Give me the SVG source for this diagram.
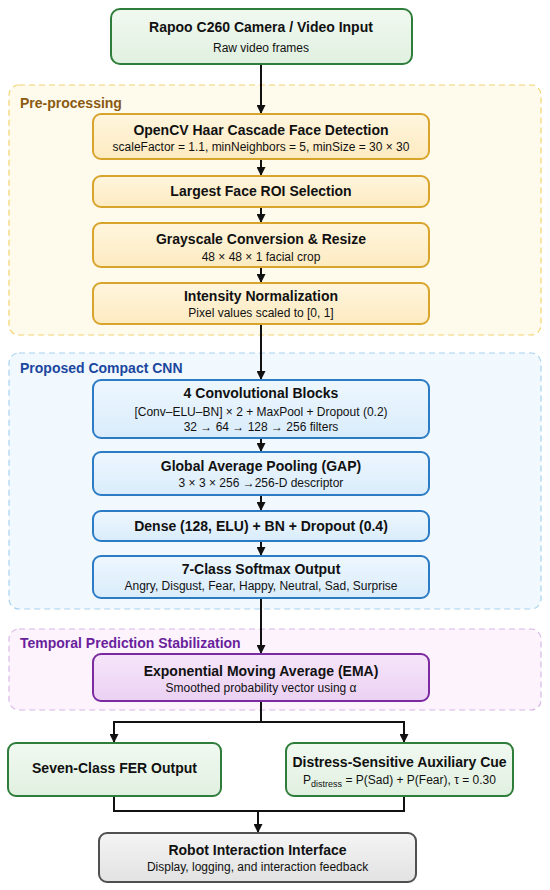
<svg xmlns="http://www.w3.org/2000/svg" width="550" height="890" viewBox="0 0 550 890">
<defs>
<linearGradient id="gGreen" x1="0" y1="0" x2="0" y2="1"><stop offset="0" stop-color="#f1f9f1"/><stop offset="1" stop-color="#e0f0e0"/></linearGradient>
<linearGradient id="gYel" x1="0" y1="0" x2="0" y2="1"><stop offset="0" stop-color="#fff6de"/><stop offset="1" stop-color="#fdeac0"/></linearGradient>
<linearGradient id="gBlue" x1="0" y1="0" x2="0" y2="1"><stop offset="0" stop-color="#eef7fe"/><stop offset="1" stop-color="#d9ecfb"/></linearGradient>
<linearGradient id="gPur" x1="0" y1="0" x2="0" y2="1"><stop offset="0" stop-color="#f6e6fa"/><stop offset="1" stop-color="#ebd0f3"/></linearGradient>
<linearGradient id="gGray" x1="0" y1="0" x2="0" y2="1"><stop offset="0" stop-color="#f4f4f4"/><stop offset="1" stop-color="#e2e2e2"/></linearGradient>
<marker id="arr" viewBox="0 0 10 10" refX="10" refY="5" markerWidth="4.5" markerHeight="4.5" orient="auto" markerUnits="strokeWidth">
<path d="M0,0 L10,5 L0,10 z" fill="#111"/>
</marker>
</defs>
<style>
text{font-family:"Liberation Sans",Arial,sans-serif;text-anchor:middle;fill:#111}
.t{font-size:14px;font-weight:bold}
.s{font-size:12px}
.lab{font-size:14px;font-weight:bold;text-anchor:start}
.cont{stroke-width:1.2;stroke-dasharray:6 4}
.box{stroke-width:2}
.green{fill:url(#gGreen);stroke:#2e7d3a}
.yel{fill:url(#gYel);stroke:#d9a42c}
.blue{fill:url(#gBlue);stroke:#2b7cc4}
.pur{fill:url(#gPur);stroke:#7b2a9f}
.gray{fill:url(#gGray);stroke:#505050}
.ln{fill:none;stroke:#111;stroke-width:2}
.ar{marker-end:url(#arr)}
</style>
<rect width="550" height="890" fill="#ffffff"/>

<g id="cont-pre">
<rect x="9" y="85" width="532" height="250" rx="10" fill="#fffbec" stroke="#f2d470" class="cont"/>
<text x="20" y="108" class="lab" style="fill:#8a5a12">Pre-processing</text>
</g>
<g id="cont-cnn">
<rect x="9" y="353" width="532" height="256" rx="10" fill="#f1f8fe" stroke="#a8d2ee" class="cont"/>
<text x="20" y="373" class="lab" style="fill:#1b479e">Proposed Compact CNN</text>
</g>
<g id="cont-temp">
<rect x="9" y="629" width="532" height="81" rx="10" fill="#fcf3fd" stroke="#d8b8e6" class="cont"/>
<text x="20" y="648" class="lab" style="fill:#6a1f9c">Temporal Prediction Stabilization</text>
</g>

<g id="connectors">
<path class="ln ar" d="M261,64 V114"/>
<path class="ln ar" d="M261,159 V176"/>
<path class="ln ar" d="M261,207 V223"/>
<path class="ln ar" d="M261,267 V283"/>
<path class="ln ar" d="M261,324 V380"/>
<path class="ln ar" d="M261,438 V452"/>
<path class="ln ar" d="M261,495 V511"/>
<path class="ln ar" d="M261,541 V556"/>
<path class="ln ar" d="M261,598 V654"/>
<path class="ln" d="M261,701 V722"/>
<path class="ln ar" d="M114,722 H404 M114,721 V743"/>
<path class="ln ar" d="M404,721 V743"/>
<path class="ln" d="M114,796 V811 H404 V796"/>
<path class="ln ar" d="M258,811 V833"/>
</g>

<g id="input">
<rect x="111" y="9" width="301" height="55" rx="9" class="box green"/>
<text x="261" y="32" class="t">Rapoo C260 Camera / Video Input</text>
<text x="261" y="52" class="s">Raw video frames</text>
</g>
<g id="haar">
<rect x="93" y="114" width="336" height="45" rx="8" class="box yel"/>
<text x="261" y="135" class="t">OpenCV Haar Cascade Face Detection</text>
<text x="261" y="151" class="s">scaleFactor = 1.1, minNeighbors = 5, minSize = 30 × 30</text>
</g>
<g id="roi">
<rect x="93" y="176" width="336" height="31" rx="8" class="box yel"/>
<text x="261" y="196" class="t">Largest Face ROI Selection</text>
</g>
<g id="gray">
<rect x="93" y="223" width="336" height="44" rx="8" class="box yel"/>
<text x="261" y="244" class="t">Grayscale Conversion &amp; Resize</text>
<text x="261" y="261" class="s">48 × 48 × 1 facial crop</text>
</g>
<g id="norm">
<rect x="93" y="283" width="336" height="41" rx="8" class="box yel"/>
<text x="261" y="301" class="t">Intensity Normalization</text>
<text x="261" y="317" class="s">Pixel values scaled to [0, 1]</text>
</g>
<g id="conv">
<rect x="93" y="380" width="336" height="58" rx="8" class="box blue"/>
<text x="261" y="398" class="t">4 Convolutional Blocks</text>
<text x="261" y="416" class="s">[Conv–ELU–BN] × 2 + MaxPool + Dropout (0.2)</text>
<text x="261" y="431" class="s">32 → 64 → 128 → 256 filters</text>
</g>
<g id="gap">
<rect x="93" y="452" width="336" height="43" rx="8" class="box blue"/>
<text x="261" y="471" class="t">Global Average Pooling (GAP)</text>
<text x="261" y="487" class="s">3 × 3 × 256 →256-D descriptor</text>
</g>
<g id="dense">
<rect x="93" y="511" width="336" height="30" rx="8" class="box blue"/>
<text x="261" y="531" class="t">Dense (128, ELU) + BN + Dropout (0.4)</text>
</g>
<g id="softmax">
<rect x="93" y="556" width="336" height="42" rx="8" class="box blue"/>
<text x="261" y="574" class="t">7-Class Softmax Output</text>
<text x="261" y="590" class="s">Angry, Disgust, Fear, Happy, Neutral, Sad, Surprise</text>
</g>
<g id="ema">
<rect x="93" y="654" width="336" height="47" rx="8" class="box pur"/>
<text x="261" y="676" class="t">Exponential Moving Average (EMA)</text>
<text x="261" y="692" class="s">Smoothed probability vector using α</text>
</g>
<g id="fer">
<rect x="8" y="743" width="213" height="53" rx="8" class="box green"/>
<text x="114.5" y="773" class="t">Seven-Class FER Output</text>
</g>
<g id="distress">
<rect x="286" y="743" width="227" height="53" rx="8" class="box green"/>
<text x="399.5" y="767" class="t">Distress-Sensitive Auxiliary Cue</text>
<text x="399.5" y="784" class="s">P<tspan font-size="9" dy="3">distress</tspan><tspan dy="-3"> = P(Sad) + P(Fear),  τ = 0.30</tspan></text>
</g>
<g id="robot">
<rect x="99" y="833" width="317" height="49" rx="8" class="box gray"/>
<text x="257.5" y="855" class="t">Robot Interaction Interface</text>
<text x="257.5" y="871" class="s">Display, logging, and interaction feedback</text>
</g>
</svg>
